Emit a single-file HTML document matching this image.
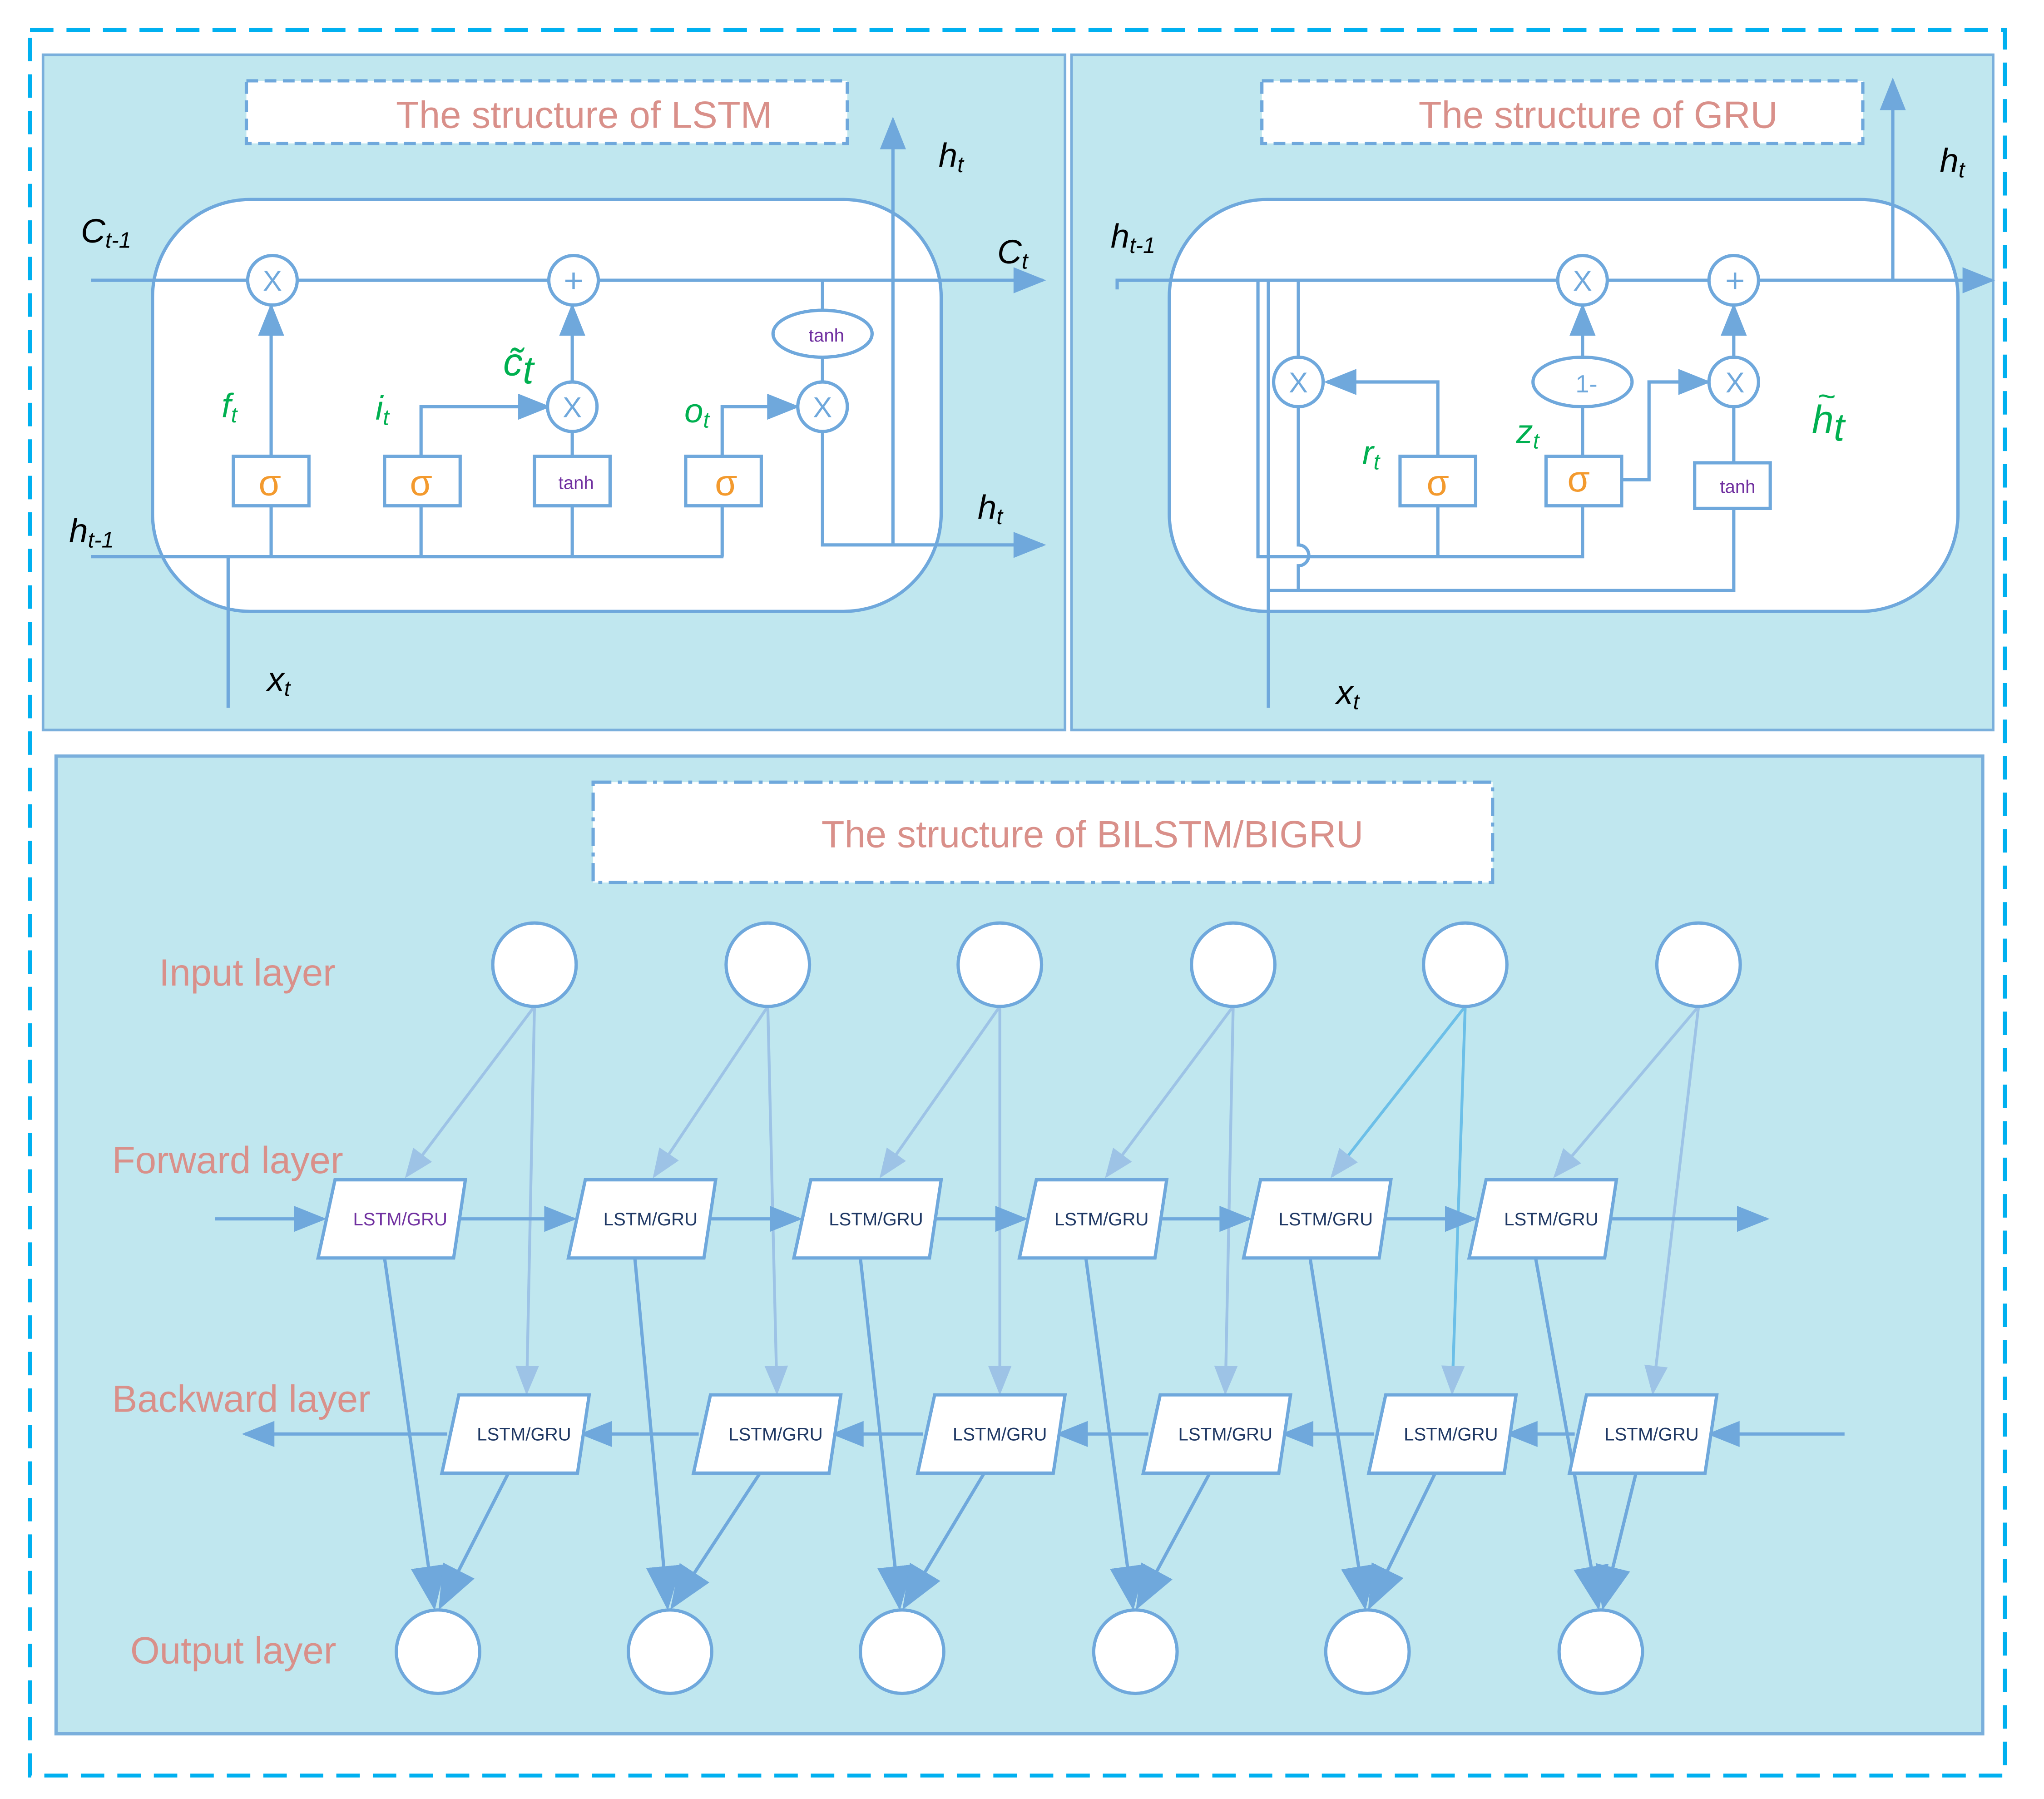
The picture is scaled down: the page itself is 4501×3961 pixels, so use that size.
<!DOCTYPE html>
<html><head><meta charset="utf-8"><style>html,body{margin:0;padding:0;background:#fff}svg{display:block}</style></head>
<body>
<svg width="4501" height="3961" viewBox="0 0 1568 1380" preserveAspectRatio="none" xmlns="http://www.w3.org/2000/svg" font-family="Liberation Sans, sans-serif">
<defs>
<marker id="A" viewBox="0 0 10 8" refX="9" refY="4" markerWidth="28" markerHeight="20" orient="auto" markerUnits="userSpaceOnUse"><path d="M0,0L10,4L0,8z" fill="#6fa8dc"/></marker>
<marker id="L" viewBox="0 0 10 8" refX="9" refY="4" markerWidth="24" markerHeight="18" orient="auto" markerUnits="userSpaceOnUse"><path d="M0,0L10,4L0,8z" fill="#9dc3e6"/></marker>
<marker id="B" viewBox="0 0 10 8" refX="9" refY="4" markerWidth="34" markerHeight="28" orient="auto" markerUnits="userSpaceOnUse"><path d="M0,0L10,4L0,8z" fill="#6fa8dc"/></marker>
</defs>
<rect x="23" y="23" width="1515" height="1339" fill="none" stroke="#00b0f0" stroke-width="3" stroke-dasharray="18 10"/>
<rect x="33" y="42" width="784" height="518" fill="#c0e7ef" stroke="#7aafdc" stroke-width="2"/>
<rect x="822" y="42" width="707" height="518" fill="#c0e7ef" stroke="#7aafdc" stroke-width="2"/>
<rect x="43" y="580" width="1478" height="750" fill="#c0e7ef" stroke="#7aafdc" stroke-width="2.5"/>

<g stroke="#6fa8dc" stroke-width="2.5" fill="none">
<rect x="189" y="62" width="461" height="48" fill="#fff" stroke-dasharray="9 5"/>
<rect x="117" y="153" width="605" height="316" rx="75" fill="#fff"/>
<line x1="70" y1="215" x2="800" y2="215" marker-end="url(#A)"/>
<line x1="70" y1="427" x2="555" y2="427"/>
<line x1="175" y1="427" x2="175" y2="543"/>
<line x1="208" y1="427" x2="208" y2="388"/><line x1="323" y1="427" x2="323" y2="388"/><line x1="439" y1="427" x2="439" y2="388"/><line x1="554" y1="427" x2="554" y2="388"/>
<line x1="208" y1="350" x2="208" y2="235" marker-end="url(#A)"/>
<polyline points="323,350 323,312 420,312" marker-end="url(#A)"/>
<line x1="439" y1="350" x2="439" y2="331"/>
<line x1="439" y1="293" x2="439" y2="235" marker-end="url(#A)"/>
<polyline points="554,350 554,312 611,312" marker-end="url(#A)"/>
<line x1="631" y1="215" x2="631" y2="238"/><line x1="631" y1="274" x2="631" y2="293"/>
<polyline points="631,331 631,418 800,418" marker-end="url(#A)"/>
<line x1="685" y1="418" x2="685" y2="92" marker-end="url(#A)"/>
<rect x="179" y="350" width="58" height="38" fill="#fff"/><rect x="295" y="350" width="58" height="38" fill="#fff"/><rect x="410" y="350" width="58" height="38" fill="#fff"/><rect x="526" y="350" width="58" height="38" fill="#fff"/>
<circle cx="209" cy="215" r="19" fill="#fff"/><circle cx="440" cy="215" r="19" fill="#fff"/><circle cx="439" cy="312" r="19" fill="#fff"/><circle cx="631" cy="312" r="19" fill="#fff"/>
<ellipse cx="631" cy="256" rx="38" ry="18" fill="#fff"/>
<rect x="968" y="62" width="461" height="48" fill="#fff" stroke-dasharray="9 5"/>
<rect x="897" y="153" width="605" height="316" rx="75" fill="#fff"/>
<polyline points="857,222 857,215 1528,215" marker-end="url(#A)"/>
<line x1="1452" y1="215" x2="1452" y2="62" marker-end="url(#A)"/>
<polyline points="965,215 965,427 1214,427 1214,388"/>
<line x1="1103" y1="427" x2="1103" y2="388"/>
<polyline points="973,215 973,543"/>
<polyline points="973,453 1330,453 1330,390"/>
<path d="M996,215V274M996,312V418a8,8 0 0 1 0,16V453" />
<polyline points="1103,350 1103,293 1018,293" marker-end="url(#A)"/>
<line x1="1214" y1="350" x2="1214" y2="312"/>
<line x1="1214" y1="274" x2="1214" y2="235" marker-end="url(#A)"/>
<polyline points="1243,368 1265,368 1265,293 1310,293" marker-end="url(#A)"/>
<line x1="1330" y1="355" x2="1330" y2="312"/>
<line x1="1330" y1="274" x2="1330" y2="235" marker-end="url(#A)"/>
<rect x="1074" y="350" width="58" height="38" fill="#fff"/><rect x="1186" y="350" width="58" height="38" fill="#fff"/><rect x="1300" y="355" width="58" height="35" fill="#fff"/>
<circle cx="1214" cy="215" r="19" fill="#fff"/><circle cx="1330" cy="215" r="19" fill="#fff"/><circle cx="996" cy="293" r="19" fill="#fff"/><circle cx="1330" cy="293" r="19" fill="#fff"/>
<ellipse cx="1214" cy="293" rx="38" ry="19" fill="#fff"/>
<rect x="455" y="600" width="690" height="77" fill="#fff" stroke-dasharray="14 5 3 5"/>
</g>
<g fill="#6fa8dc" font-size="22" text-anchor="middle">
<text x="209" y="223">X</text><text x="440" y="224" font-size="26">+</text><text x="439" y="320">X</text><text x="631" y="320">X</text>
<text x="1214" y="223">X</text><text x="1331" y="224" font-size="26">+</text><text x="996" y="301">X</text><text x="1331" y="301">X</text><text x="1217" y="301" font-size="19">1-</text>
</g>
<g fill="#f39a2e" font-size="28" text-anchor="middle"><text x="207" y="380">σ</text><text x="323" y="380">σ</text><text x="557" y="380">σ</text><text x="1103" y="380">σ</text><text x="1211" y="377">σ</text></g>
<g fill="#7030a0" font-size="14" text-anchor="middle"><text x="442" y="375">tanh</text><text x="634" y="262">tanh</text><text x="1333" y="378">tanh</text></g>
<g fill="#d9908a" font-size="29"><text x="448" y="98" text-anchor="middle">The structure of LSTM</text><text x="1226" y="98" text-anchor="middle">The structure of GRU</text><text x="838" y="650" text-anchor="middle">The structure of BILSTM/BIGRU</text>
<text x="122" y="756">Input layer</text><text x="86" y="900">Forward layer</text><text x="86" y="1083">Backward layer</text><text x="100" y="1276">Output layer</text></g>
<g font-style="italic" font-size="26" fill="#000">
<text x="62" y="186">C<tspan font-size="17" dy="4">t-1</tspan></text>
<text x="53" y="416">h<tspan font-size="17" dy="4">t-1</tspan></text>
<text x="205" y="530">x<tspan font-size="17" dy="4">t</tspan></text>
<text x="720" y="128">h<tspan font-size="17" dy="4">t</tspan></text>
<text x="765" y="202">C<tspan font-size="17" dy="4">t</tspan></text>
<text x="750" y="398">h<tspan font-size="17" dy="4">t</tspan></text>
<text x="852" y="190">h<tspan font-size="17" dy="4">t-1</tspan></text>
<text x="1488" y="132">h<tspan font-size="17" dy="4">t</tspan></text>
<text x="1025" y="540">x<tspan font-size="17" dy="4">t</tspan></text>
</g>
<g font-style="italic" font-size="26" fill="#00b050">
<text x="170" y="320">f<tspan font-size="17" dy="4">t</tspan></text>
<text x="288" y="322">i<tspan font-size="17" dy="4">t</tspan></text>
<text x="386" y="288" font-size="30">c̃<tspan dy="6">t</tspan></text>
<text x="525" y="324">o<tspan font-size="17" dy="4">t</tspan></text>
<text x="1045" y="356">r<tspan font-size="17" dy="4">t</tspan></text>
<text x="1163" y="340">z<tspan font-size="17" dy="4">t</tspan></text>
<text x="1390" y="332" font-size="30">h<tspan dy="6">t</tspan></text>
<text x="1394" y="312" font-size="24">~</text>
</g>

<g stroke="#9dc3e6" stroke-width="2.2">
<line x1="410" y1="772" x2="312" y2="902" marker-end="url(#L)"/><line x1="410" y1="772" x2="404" y2="1068" marker-end="url(#L)"/>
<line x1="589" y1="772" x2="502" y2="902" marker-end="url(#L)"/><line x1="589" y1="772" x2="596" y2="1068" marker-end="url(#L)"/>
<line x1="767" y1="772" x2="676" y2="902" marker-end="url(#L)"/><line x1="767" y1="772" x2="767" y2="1068" marker-end="url(#L)"/>
<line x1="946" y1="772" x2="849" y2="902" marker-end="url(#L)"/><line x1="946" y1="772" x2="940" y2="1068" marker-end="url(#L)"/>
<line x1="1124" y1="772" x2="1022" y2="902" marker-end="url(#L)" stroke="#6cbfe8"/><line x1="1124" y1="772" x2="1114" y2="1068" marker-end="url(#L)" stroke="#6cbfe8"/>
<line x1="1303" y1="772" x2="1193" y2="902" marker-end="url(#L)"/><line x1="1303" y1="772" x2="1268" y2="1068" marker-end="url(#L)"/>
</g>
<g stroke="#6fa8dc" stroke-width="2.5">
<line x1="165" y1="935" x2="248" y2="935" marker-end="url(#A)"/>
<line x1="352" y1="935" x2="440" y2="935" marker-end="url(#A)"/>
<line x1="544" y1="935" x2="613" y2="935" marker-end="url(#A)"/>
<line x1="717" y1="935" x2="786" y2="935" marker-end="url(#A)"/>
<line x1="890" y1="935" x2="958" y2="935" marker-end="url(#A)"/>
<line x1="1062" y1="935" x2="1131" y2="935" marker-end="url(#A)"/>
<line x1="1235" y1="935" x2="1355" y2="935" marker-end="url(#A)"/>
<line x1="1415" y1="1100" x2="1312" y2="1100" marker-end="url(#A)"/>
<line x1="1208" y1="1100" x2="1157" y2="1100" marker-end="url(#A)"/>
<line x1="1054" y1="1100" x2="985" y2="1100" marker-end="url(#A)"/>
<line x1="881" y1="1100" x2="812" y2="1100" marker-end="url(#A)"/>
<line x1="708" y1="1100" x2="640" y2="1100" marker-end="url(#A)"/>
<line x1="536" y1="1100" x2="447" y2="1100" marker-end="url(#A)"/>
<line x1="343" y1="1100" x2="188" y2="1100" marker-end="url(#A)"/>
<line x1="295" y1="965" x2="333" y2="1232" marker-end="url(#B)"/><line x1="390" y1="1130" x2="338" y2="1232" marker-end="url(#B)"/>
<line x1="487" y1="965" x2="512" y2="1232" marker-end="url(#B)"/><line x1="583" y1="1130" x2="516" y2="1232" marker-end="url(#B)"/>
<line x1="660" y1="965" x2="690" y2="1232" marker-end="url(#B)"/><line x1="755" y1="1130" x2="694" y2="1232" marker-end="url(#B)"/>
<line x1="833" y1="965" x2="869" y2="1232" marker-end="url(#B)"/><line x1="928" y1="1130" x2="873" y2="1232" marker-end="url(#B)"/>
<line x1="1005" y1="965" x2="1047" y2="1232" marker-end="url(#B)"/><line x1="1101" y1="1130" x2="1051" y2="1232" marker-end="url(#B)"/>
<line x1="1178" y1="965" x2="1226" y2="1232" marker-end="url(#B)"/><line x1="1255" y1="1130" x2="1230" y2="1232" marker-end="url(#B)"/>
</g>
<g fill="#fff" stroke="#6fa8dc" stroke-width="2.5">
<circle cx="410" cy="740" r="32"/><circle cx="589" cy="740" r="32"/><circle cx="767" cy="740" r="32"/><circle cx="946" cy="740" r="32"/><circle cx="1124" cy="740" r="32"/><circle cx="1303" cy="740" r="32"/>
<circle cx="336" cy="1267" r="32"/><circle cx="514" cy="1267" r="32"/><circle cx="692" cy="1267" r="32"/><circle cx="871" cy="1267" r="32"/><circle cx="1049" cy="1267" r="32"/><circle cx="1228" cy="1267" r="32"/>
<path d="M257,905h100l-9,60h-104z"/><path d="M449,905h100l-9,60h-104z"/><path d="M622,905h100l-9,60h-104z"/><path d="M795,905h100l-9,60h-104z"/><path d="M967,905h100l-9,60h-104z"/><path d="M1140,905h100l-9,60h-104z"/>
<path d="M352,1070h100l-9,60h-104z"/><path d="M545,1070h100l-9,60h-104z"/><path d="M717,1070h100l-9,60h-104z"/><path d="M890,1070h100l-9,60h-104z"/><path d="M1063,1070h100l-9,60h-104z"/><path d="M1217,1070h100l-9,60h-104z"/>
</g>
<g font-size="14" fill="#1f3864" text-anchor="middle">
<text x="307" y="940" fill="#7030a0">LSTM/GRU</text><text x="499" y="940">LSTM/GRU</text><text x="672" y="940">LSTM/GRU</text><text x="845" y="940">LSTM/GRU</text><text x="1017" y="940">LSTM/GRU</text><text x="1190" y="940">LSTM/GRU</text>
<text x="402" y="1105">LSTM/GRU</text><text x="595" y="1105">LSTM/GRU</text><text x="767" y="1105">LSTM/GRU</text><text x="940" y="1105">LSTM/GRU</text><text x="1113" y="1105">LSTM/GRU</text><text x="1267" y="1105">LSTM/GRU</text>
</g>
</svg>
</body></html>
